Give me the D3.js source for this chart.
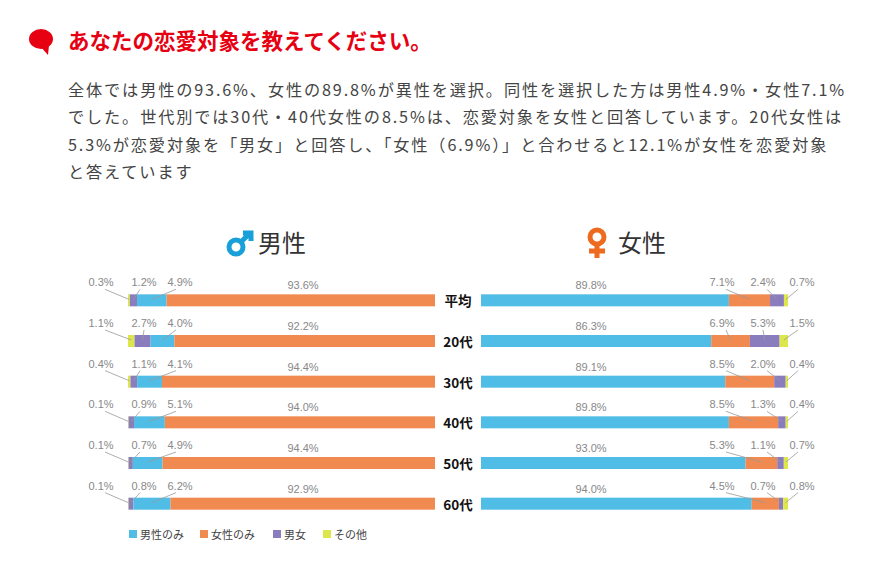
<!DOCTYPE html>
<html><head><meta charset="utf-8">
<script src="https://cdn.jsdelivr.net/npm/d3@7"></script>
<style>body{margin:0;background:#fff;font-family:"Noto Sans CJK JP","Noto Sans",sans-serif}</style>
</head><body><svg id="c" width="873" height="574"></svg>
<script>
const ages = ["平均", "20代", "30代", "40代", "50代", "60代"];
// male respondents, stacked left→right: その他, 男女, 男性のみ, 女性のみ
const maleOther = [0.3, 1.1, 0.4, 0.1, 0.1, 0.1];
const maleBoth = [1.2, 2.7, 1.1, 0.9, 0.7, 0.8];
const maleMale = [4.9, 4.0, 4.1, 5.1, 4.9, 6.2];
const maleFemale = [93.6, 92.2, 94.4, 94.0, 94.4, 92.9];
// female respondents, stacked left→right: 男性のみ, 女性のみ, 男女, その他
const femMale = [89.8, 86.3, 89.1, 89.8, 93.0, 94.0];
const femFemale = [7.1, 6.9, 8.5, 8.5, 5.3, 4.5];
const femBoth = [2.4, 5.3, 2.0, 1.3, 1.1, 0.7];
const femOther = [0.7, 1.5, 0.4, 0.4, 0.7, 0.8];
const legendNames = ["男性のみ", "女性のみ", "男女", "その他"];
const paragraph = [
  "全体では男性の93.6%、女性の89.8%が異性を選択。同性を選択した方は男性4.9%・女性7.1%",
  "でした。世代別では30代・40代女性の8.5%は、恋愛対象を女性と回答しています。20代女性は",
  "5.3%が恋愛対象を「男女」と回答し、「女性（6.9%）」と合わせると12.1%が女性を恋愛対象",
  "と答えています"
];
const colors = {male: "#4fbde6", female: "#f08a50", both: "#8a7dbd", other: "#dde64a"};

const svg = d3.select("#c");
// header
svg.append("ellipse").attr("cx", 41).attr("cy", 39).attr("rx", 12).attr("ry", 10).attr("fill", "#e60012");
svg.append("path").attr("d", "M40,46 L48,55 L49,45 Z").attr("fill", "#e60012");
svg.append("text").attr("x", 68).attr("y", 49).attr("fill", "#e60012")
  .attr("font-size", 21.5).attr("font-weight", "bold").text("あなたの恋愛対象を教えてください。");
svg.selectAll("text.p").data(paragraph).join("text").attr("class", "p")
  .attr("x", 68).attr("y", (d, i) => 96 + i * 27.3)
  .attr("font-size", 16.2).attr("letter-spacing", 1.85).attr("fill", "#444").text(d => d);

// headings
const mh = svg.append("g").attr("stroke", "#1aa0d8").attr("stroke-width", 5).attr("fill", "none");
mh.append("circle").attr("cx", 236).attr("cy", 247).attr("r", 7);
mh.append("path").attr("d", "M241,242 L250,233 M243,233 L251,233 L251,241");
svg.append("text").attr("x", 258).attr("y", 252).attr("font-size", 24).attr("fill", "#333").text("男性");
const fh = svg.append("g").attr("stroke", "#ee6a1e").attr("stroke-width", 5).attr("fill", "none");
fh.append("circle").attr("cx", 597).attr("cy", 237).attr("r", 7);
fh.append("path").attr("d", "M597,244 L597,258 M589,251 L605,251");
svg.append("text").attr("x", 618).attr("y", 252).attr("font-size", 24).attr("fill", "#333").text("女性");

const y = d3.scaleBand().domain(ages).range([278, 522]).paddingInner(0);
const barH = 12;
// small shares are drawn wider than their share, as in the original
const widen = v => v < 20 ? v * 2.1 : v;

function stack(vals) {
  let acc = 0;
  const out = vals.map(v => { const s = acc; acc += widen(v); return [s, acc, v]; });
  return {segs: out, total: acc};
}

function drawSide(x0, x1, rows, keys, labelX, mainLabelX, mainIdx) {
  ages.forEach((a, r) => {
    const vals = rows.map(arr => arr[r]);
    const st = stack(vals);
    const x = d3.scaleLinear().domain([0, st.total]).range([x0, x1]);
    const cy = y(a) + y.bandwidth() / 2 + 2;
    const g = svg.append("g");
    g.selectAll("rect").data(st.segs).join("rect")
      .attr("x", d => x(d[0])).attr("width", d => x(d[1]) - x(d[0]))
      .attr("y", cy - barH / 2).attr("height", barH)
      .attr("fill", (d, i) => colors[keys[i]]);
    st.segs.forEach((d, i) => {
      const lx = i === mainIdx ? mainLabelX : labelX[i];
      g.append("text").attr("x", lx).attr("y", cy - 11 - (i === mainIdx ? 0 : 3))
        .attr("text-anchor", "middle").attr("font-size", 11).attr("fill", "#888")
        .attr("font-family", "Liberation Sans, sans-serif").text(d[2].toFixed(1) + "%");
      if (i !== mainIdx) {
        const mx = (x(d[0]) + x(d[1])) / 2;
        g.append("line").attr("x1", lx + (mx < lx - 8 ? -4 : mx > lx + 8 ? 4 : 0)).attr("y1", cy - 11)
          .attr("x2", mx).attr("y2", cy - 1).attr("stroke", "#999").attr("stroke-width", 0.8);
      }
    });
  });
}

drawSide(128, 435, [maleOther, maleBoth, maleMale, maleFemale],
  ["other", "both", "male", "female"], [101, 144, 180], 303, 3);
drawSide(481, 788, [femMale, femFemale, femBoth, femOther],
  ["male", "female", "both", "other"], [0, 722, 763, 802], 591, 0);

svg.selectAll("text.age").data(ages).join("text").attr("class", "age")
  .attr("x", 458).attr("y", d => y(d) + y.bandwidth() / 2 + 8)
  .attr("text-anchor", "middle").attr("font-size", 13.5).attr("font-weight", "bold")
  .attr("fill", "#111").text(d => d);

// legend
const lkeys = ["male", "female", "both", "other"];
const lx = [129, 200, 273, 323];
const lg = svg.selectAll("g.lg").data(legendNames).join("g").attr("class", "lg")
  .attr("transform", (d, i) => `translate(${lx[i]},535)`);
lg.append("rect").attr("y", -5).attr("width", 8).attr("height", 8).attr("fill", (d, i) => colors[lkeys[i]]);
lg.append("text").attr("x", 11).attr("y", 3.5).attr("font-size", 11).attr("fill", "#444").text(d => d);
</script></body></html>
